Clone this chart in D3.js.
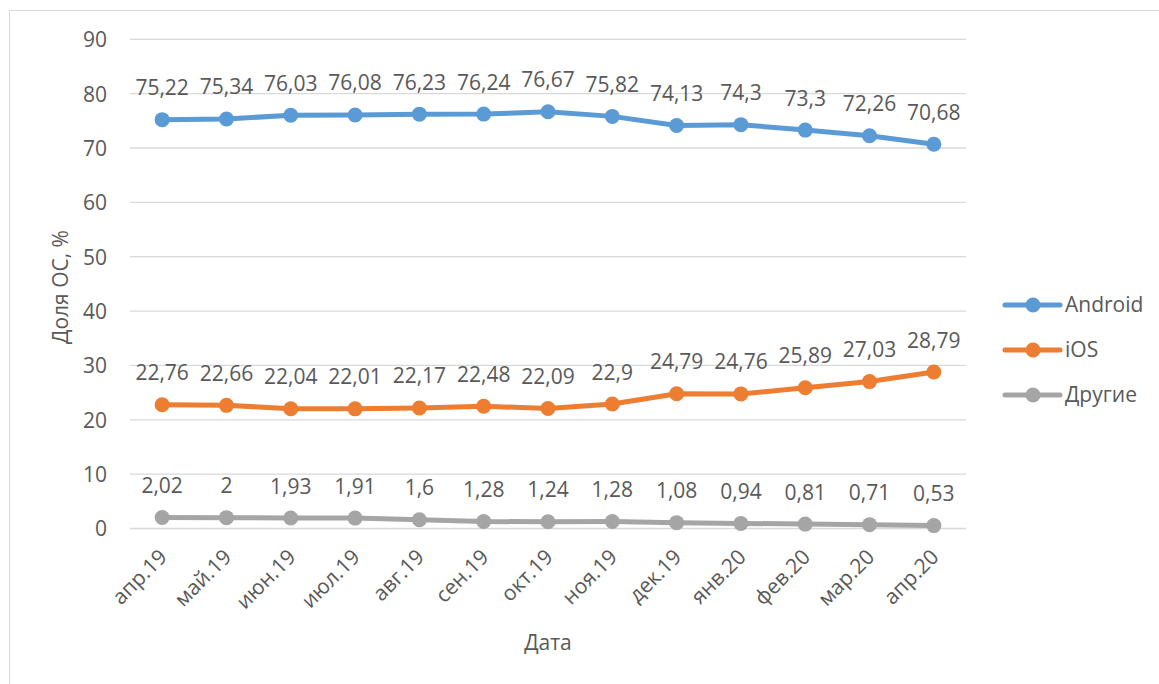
<!DOCTYPE html>
<html><head><meta charset="utf-8">
<script src="https://cdn.jsdelivr.net/npm/d3@7"></script>
<style>body{margin:0;background:#fff}svg{display:block}text{font-family:"Open Sans",sans-serif;fill:#595959}</style>
</head><body><svg id="c" width="1159" height="684"></svg>
<script>
const categories = ["апр.19","май.19","июн.19","июл.19","авг.19","сен.19","окт.19","ноя.19","дек.19","янв.20","фев.20","мар.20","апр.20"];
const android = [75.22,75.34,76.03,76.08,76.23,76.24,76.67,75.82,74.13,74.3,73.3,72.26,70.68];
const ios = [22.76,22.66,22.04,22.01,22.17,22.48,22.09,22.9,24.79,24.76,25.89,27.03,28.79];
const other = [2.02,2,1.93,1.91,1.6,1.28,1.24,1.28,1.08,0.94,0.81,0.71,0.53];
const seriesNames = ["Android","iOS","Другие"];
const colors = ["#5B9BD5","#ED7D31","#A5A5A5"];
const yTicks = [0,10,20,30,40,50,60,70,80,90];

const FS = 21;
const svg = d3.select("#c");
svg.append("rect").attr("x",9.5).attr("y",10.5).attr("width",1300).attr("height",1000)
  .attr("fill","none").attr("stroke","#D9D9D9");

const x = d3.scaleBand().domain(categories).range([130,966]);
const y = d3.scaleLinear().domain([0,90]).range([528.5,39.3]);

svg.append("g").selectAll("line").data(yTicks).join("line")
  .attr("x1",130).attr("x2",966).attr("y1",d=>y(d)).attr("y2",d=>y(d))
  .attr("stroke","#D9D9D9").attr("stroke-width",1.3);

const yAxis = d3.axisLeft(y).tickValues(yTicks).tickSize(0).tickPadding(0).tickFormat(d3.format("d"));
const gy = svg.append("g").attr("transform","translate(107,0)").call(yAxis);
gy.select(".domain").remove();
gy.selectAll("text").attr("font-size",FS).attr("font-family","Open Sans").attr("fill","#595959").attr("dy","0.35em");

const xAxis = d3.axisBottom(x).tickSize(0).tickPadding(0);
const gx = svg.append("g").call(xAxis);
gx.select(".domain").remove();
gx.selectAll(".tick").attr("transform",d=>`translate(${x(d)+x.bandwidth()/2+1},553)`);
gx.selectAll("text").attr("font-size",FS).attr("font-family","Open Sans").attr("fill","#595959")
  .attr("y",0).attr("dy","0.35em").attr("text-anchor","end").attr("transform","rotate(-45)");

const cx = d => x(d)+x.bandwidth()/2;
const fmt = v => String(v).replace(".",",");
const data = [android, ios, other];
const line = d3.line().x((v,i)=>cx(categories[i])).y(v=>y(v));
data.forEach((vals,si)=>{
  const g = svg.append("g");
  g.append("path").datum(vals).attr("d",line).attr("fill","none")
    .attr("stroke",colors[si]).attr("stroke-width",5).attr("stroke-linejoin","round");
  g.selectAll("circle").data(vals).join("circle")
    .attr("cx",(v,i)=>cx(categories[i])).attr("cy",v=>y(v)).attr("r",7.5).attr("fill",colors[si]);
  g.selectAll("text").data(vals).join("text")
    .attr("x",(v,i)=>cx(categories[i])).attr("y",v=>y(v)-24.5)
    .attr("text-anchor","middle").attr("font-size",FS).text(fmt);
});

const lg = svg.append("g");
seriesNames.forEach((n,i)=>{
  const yy = 305 + i*45;
  lg.append("line").attr("x1",1005).attr("x2",1060).attr("y1",yy).attr("y2",yy)
    .attr("stroke",colors[i]).attr("stroke-width",5).attr("stroke-linecap","round");
  lg.append("circle").attr("cx",1033).attr("cy",yy).attr("r",7.5).attr("fill",colors[i]);
  lg.append("text").attr("x",1065).attr("y",yy).attr("dy","0.35em").attr("font-size",FS).text(n);
});

svg.append("text").attr("x",548).attr("y",650).attr("text-anchor","middle").attr("font-size",FS).text("Дата");
svg.append("text").attr("transform","translate(68,287) rotate(-90)").attr("text-anchor","middle").attr("font-size",FS).text("Доля ОС, %");
</script></body></html>
